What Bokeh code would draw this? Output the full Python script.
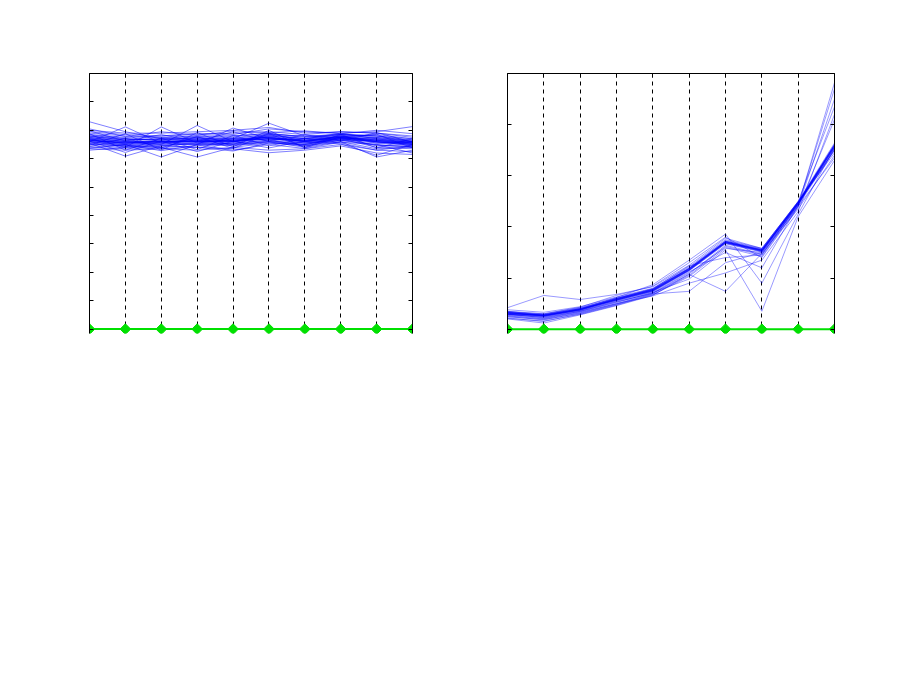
import math
from bokeh.plotting import figure
from bokeh.layouts import row
from bokeh.models import LinearAxis, FixedTicker, Grid, Range1d, CustomJSTickFormatter
from bokeh.embed import file_html
from bokeh.resources import INLINE

# ---------------- data ----------------
positions = [1, 2, 3, 4, 5, 6, 7, 8, 9, 10]
baseline = [0, 0, 0, 0, 0, 0, 0, 0, 0, 0]

left_series = [
    [7.30, 6.95, 6.70, 6.75, 6.60, 6.80, 6.70, 6.85, 6.80, 6.60],
    [6.60, 7.12, 6.55, 6.70, 6.50, 6.90, 6.60, 6.80, 6.65, 6.50],
    [6.70, 6.40, 7.12, 6.55, 6.70, 6.75, 6.55, 6.70, 6.60, 6.45],
    [6.75, 6.60, 6.50, 7.17, 6.60, 6.85, 6.70, 6.75, 6.70, 6.55],
    [6.65, 6.55, 6.60, 6.50, 7.08, 6.70, 6.65, 6.80, 6.55, 6.60],
    [6.80, 6.70, 6.65, 6.75, 6.70, 7.25, 6.80, 6.85, 6.75, 6.65],
    [6.55, 6.09, 6.45, 6.55, 6.45, 6.60, 6.50, 6.70, 6.40, 6.35],
    [6.60, 6.50, 6.06, 6.50, 6.55, 6.65, 6.45, 6.65, 6.50, 6.40],
    [6.50, 6.45, 6.40, 6.06, 6.40, 6.55, 6.50, 6.70, 6.60, 6.50],
    [6.40, 6.35, 6.35, 6.40, 6.27, 6.55, 6.45, 6.60, 6.06, 6.30],
    [6.95, 6.85, 6.80, 6.90, 6.85, 7.05, 6.95, 6.90, 6.95, 7.13],
    [6.30, 6.40, 6.45, 6.40, 6.35, 6.21, 6.30, 6.45, 6.20, 6.15],
    [6.85, 6.75, 6.80, 6.85, 6.90, 6.95, 6.85, 6.95, 6.90, 6.80],
    [6.75, 6.65, 6.70, 6.70, 6.75, 6.85, 6.80, 6.75, 6.85, 6.70],
    [6.65, 6.55, 6.60, 6.60, 6.65, 6.80, 6.65, 6.70, 6.75, 6.60],
    [6.60, 6.50, 6.55, 6.55, 6.60, 6.70, 6.55, 6.65, 6.65, 6.55],
    [6.70, 6.60, 6.65, 6.65, 6.70, 6.75, 6.60, 6.80, 6.60, 6.50],
    [6.55, 6.45, 6.50, 6.50, 6.55, 6.65, 6.50, 6.75, 6.45, 6.45],
    [6.90, 6.80, 6.75, 6.80, 6.80, 6.90, 6.75, 6.85, 6.80, 6.65],
    [6.45, 6.40, 6.40, 6.45, 6.50, 6.60, 6.40, 6.60, 6.35, 6.40],
    [6.80, 6.65, 6.70, 6.65, 6.65, 6.70, 6.70, 6.90, 6.70, 6.60],
    [6.62, 6.58, 6.62, 6.60, 6.62, 6.72, 6.62, 6.75, 6.62, 6.55],
    [6.68, 6.52, 6.55, 6.62, 6.58, 6.78, 6.58, 6.72, 6.68, 6.58],
    [6.72, 6.62, 6.58, 6.68, 6.68, 6.68, 6.66, 6.78, 6.58, 6.52],
    [6.35, 6.30, 6.35, 6.30, 6.40, 6.30, 6.35, 6.50, 6.30, 6.25],
    [7.00, 6.90, 6.90, 6.95, 7.00, 7.10, 6.90, 6.95, 6.90, 6.75],
    [6.58, 6.48, 6.52, 6.58, 6.52, 6.62, 6.55, 6.68, 6.55, 6.48],
    [6.78, 6.68, 6.68, 6.72, 6.72, 6.82, 6.72, 6.82, 6.72, 6.62],
    [6.98, 6.62, 6.85, 6.60, 6.95, 6.60, 6.85, 6.62, 6.92, 6.58],
    [6.42, 6.72, 6.38, 6.78, 6.36, 6.88, 6.40, 6.86, 6.38, 6.70],
    [6.88, 6.30, 6.72, 6.32, 6.82, 6.45, 6.72, 6.55, 6.30, 6.45],
    [6.48, 6.88, 6.30, 6.92, 6.42, 7.00, 6.38, 6.78, 6.86, 6.38],
    [6.62, 6.22, 6.62, 6.25, 6.62, 6.38, 6.62, 6.52, 6.12, 6.50],
    [6.66, 6.56, 6.60, 6.64, 6.64, 6.74, 6.64, 6.74, 6.64, 6.56],
    [6.70, 6.58, 6.62, 6.60, 6.62, 6.76, 6.60, 6.76, 6.66, 6.58],
    [6.64, 6.54, 6.58, 6.62, 6.60, 6.70, 6.62, 6.72, 6.60, 6.54],
    [6.36, 6.50, 6.28, 6.48, 6.30, 6.50, 6.36, 6.58, 6.50, 6.20],
    [7.05, 6.78, 6.95, 6.82, 6.98, 6.92, 6.98, 6.88, 7.00, 6.88],
    [6.52, 6.44, 6.46, 6.52, 6.48, 6.58, 6.48, 6.64, 6.48, 6.42],
    [6.84, 6.72, 6.74, 6.78, 6.80, 6.88, 6.78, 6.86, 6.80, 6.70],
]

right_series = [
    [0.31, 0.27, 0.39, 0.58, 0.76, 1.17, 1.70, 1.54, 2.47, 3.58],
    [0.33, 0.29, 0.41, 0.60, 0.78, 1.19, 1.72, 1.56, 2.49, 3.60],
    [0.29, 0.25, 0.37, 0.56, 0.74, 1.15, 1.68, 1.52, 2.45, 3.56],
    [0.32, 0.26, 0.38, 0.59, 0.77, 1.18, 1.69, 1.55, 2.46, 3.55],
    [0.30, 0.28, 0.40, 0.57, 0.75, 1.16, 1.71, 1.53, 2.48, 3.62],
    [0.28, 0.24, 0.36, 0.55, 0.73, 1.14, 1.67, 1.51, 2.44, 3.52],
    [0.34, 0.30, 0.42, 0.61, 0.79, 1.20, 1.73, 1.57, 2.50, 3.64],
    [0.35, 0.27, 0.38, 0.57, 0.75, 1.16, 1.69, 1.53, 2.47, 3.50],
    [0.31, 0.26, 0.39, 0.58, 0.77, 1.18, 1.71, 1.55, 2.48, 3.59],
    [0.30, 0.27, 0.38, 0.59, 0.76, 1.16, 1.70, 1.54, 2.46, 3.57],
    [0.32, 0.28, 0.40, 0.60, 0.78, 1.19, 1.72, 1.55, 2.47, 3.61],
    [0.29, 0.26, 0.37, 0.57, 0.75, 1.15, 1.69, 1.52, 2.46, 3.56],
    [0.33, 0.27, 0.39, 0.58, 0.77, 1.18, 1.71, 1.54, 2.48, 3.59],
    [0.42, 0.66, 0.58, 0.68, 0.83, 1.25, 1.78, 1.58, 2.49, 3.45],
    [0.22, 0.15, 0.30, 0.48, 0.68, 1.05, 1.62, 1.45, 2.42, 4.82],
    [0.20, 0.12, 0.28, 0.46, 0.66, 1.08, 1.64, 1.47, 2.43, 4.70],
    [0.25, 0.18, 0.32, 0.50, 0.70, 1.10, 1.60, 1.42, 2.40, 4.50],
    [0.27, 0.21, 0.34, 0.52, 0.72, 0.98, 1.55, 0.35, 2.20, 3.30],
    [0.30, 0.22, 0.35, 0.54, 0.70, 1.07, 0.74, 1.48, 2.35, 3.40],
    [0.26, 0.20, 0.33, 0.50, 0.65, 0.90, 1.10, 1.35, 2.30, 4.20],
    [0.32, 0.28, 0.40, 0.62, 0.87, 1.35, 1.86, 0.90, 2.25, 3.55],
    [0.35, 0.30, 0.43, 0.66, 0.84, 1.30, 1.80, 1.40, 2.38, 4.10],
    [0.24, 0.19, 0.31, 0.49, 0.69, 0.74, 1.30, 1.50, 2.40, 3.35],
    [0.38, 0.33, 0.44, 0.63, 0.80, 1.22, 1.75, 1.58, 2.50, 4.35],
    [0.29, 0.23, 0.35, 0.53, 0.71, 1.12, 1.50, 1.20, 2.42, 3.50],
    [0.33, 0.25, 0.38, 0.60, 0.79, 1.24, 1.40, 1.45, 2.45, 3.52],
    [0.21, 0.16, 0.29, 0.47, 0.67, 1.03, 1.58, 1.50, 2.44, 3.60],
]

left_yticks = [0, 1, 2, 3, 4, 5, 6, 7, 8, 9]
right_yticks = [0, 1, 2, 3, 4, 5]
dashed_positions = [2, 3, 4, 5, 6, 7, 8, 9]

BLANK = CustomJSTickFormatter(code="return ''")


def make_panel(series, yticks, ymax, ypad, border_left, border_right, frame_w, alpha):
    p = figure(
        output_backend="svg", toolbar_location=None,
        x_range=Range1d(positions[0], positions[-1]),
        y_range=Range1d(-ypad, ymax),
        frame_width=frame_w, frame_height=260,
        min_border_left=border_left, min_border_right=border_right,
        min_border_top=73, min_border_bottom=20,
        x_axis_location=None, y_axis_location=None,
    )
    p.outline_line_color = None
    p.background_fill_color = "white"
    p.border_fill_color = "white"
    p.xgrid.visible = False
    p.ygrid.visible = False

    dash_grid = Grid(dimension=0, ticker=FixedTicker(ticks=dashed_positions),
                     grid_line_color="black", grid_line_dash="4 4",
                     grid_line_width=1)
    p.add_layout(dash_grid)

    def styled(ax):
        ax.major_label_text_font_size = "0px"
        ax.major_label_standoff = 0
        ax.formatter = BLANK
        ax.major_tick_in = 4
        ax.major_tick_out = 0
        ax.minor_tick_line_color = None
        ax.axis_line_color = "black"
        ax.major_tick_line_color = "black"
        ax.axis_line_width = 1
        return ax

    for side in ("left", "right"):
        ax = styled(LinearAxis(ticker=FixedTicker(ticks=yticks)))
        p.add_layout(ax, side)
    top = styled(LinearAxis(ticker=FixedTicker(ticks=positions)))
    p.add_layout(top, "above")

    p.multi_line(xs=[positions] * len(series), ys=series,
                 line_color="#0000ff", line_alpha=alpha, line_width=1)

    p.line(positions, baseline, line_color="#00e000", line_width=2)
    p.scatter(positions, baseline, marker="square", size=7.5, angle=math.pi / 4,
              fill_color="#00e000", line_color="#00e000")
    return p


p1 = make_panel(left_series, left_yticks, 9, 0.155, 89, 40, 323, 0.5)
p2 = make_panel(right_series, right_yticks, 5, 0.0845, 55, 30, 327, 0.4)

layout = row(p1, p2)
open("out.html", "w").write(file_html(layout, INLINE))
